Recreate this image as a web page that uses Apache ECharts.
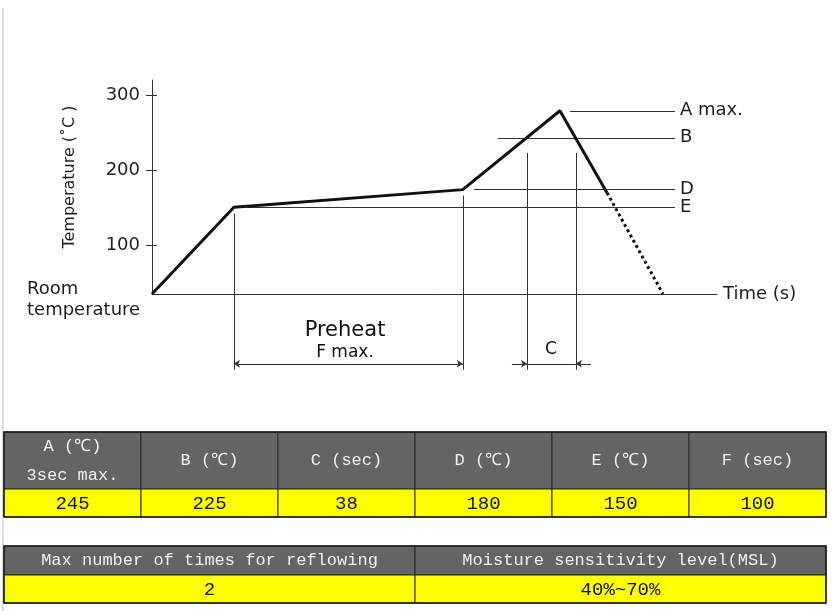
<!DOCTYPE html>
<html>
<head>
<meta charset="utf-8">
<script src="https://cdn.jsdelivr.net/npm/echarts@6/dist/echarts.min.js"></script>
<style>
  html, body { margin: 0; padding: 0; background: #fff; }
  #main { width: 832px; height: 611px; }
</style>
</head>
<body>
<div id="main"></div>
<script>
// reflow profile (time in drawing units, temperature in ℃ as drawn)
const profileTime = [0, 43.5, 165, 216.6, 241.6];
const profileTemp = [35, 150.5, 174, 279, 170];
const coolTime = [241.6, 271.3];
const coolTemp = [170, 35];

// level lines on the right
const levelNames = ['A max.', 'B', 'D', 'E'];
const levelTemps = [279, 243, 174, 150];
const levelStarts = [222, 183.7, 171, 50.4];
const levelEnd = 277.7;

// vertical guide lines [time, top temp]
const guideTimes = [43.5, 165, 199.1, 225.1];
const guideTops = [142, 166, 223, 223];
const guideBottom = -66;
const dimTemp = -58;

const tempTicks = [100, 200, 300];

// tables
const paramHeads = ['A (℃)\n3sec max.', 'B (℃)', 'C (sec)', 'D (℃)', 'E (℃)', 'F (sec)'];
const paramValues = ['245', '225', '38', '180', '150', '100'];
const reflowHeads = ['Max number of times for reflowing', 'Moisture sensitivity level(MSL)'];
const reflowValues = ['2', '40%~70%'];

const chart = echarts.init(document.getElementById('main'));
const font = 'DejaVu Sans, Arial, sans-serif';
const mono = 'Liberation Mono, DejaVu Sans Mono, monospace';
const ink = '#1e1e1e';

function seg(a, b) { return { coords: [a, b] }; }

const levelData = levelNames.map((n, i) => ({
  name: n,
  coords: [[levelStarts[i], levelTemps[i]], [levelEnd, levelTemps[i]]]
}));
const guideData = guideTimes.map((t, i) => seg([t, guideTops[i]], [t, guideBottom]));
guideData.push(seg([guideTimes[2], dimTemp], [guideTimes[3], dimTemp]));

const fMid = (guideTimes[0] + guideTimes[1]) / 2;
const arrowData = [
  seg([fMid, dimTemp], [guideTimes[0], dimTemp]),
  seg([fMid, dimTemp], [guideTimes[1], dimTemp]),
  seg([guideTimes[2] - 8, dimTemp], [guideTimes[2], dimTemp]),
  seg([guideTimes[3] + 8, dimTemp], [guideTimes[3], dimTemp])
];

function table(x, y, w, hHead, hVal, heads, values) {
  const n = heads.length;
  const cw = w / n;
  const items = [];
  heads.forEach((h, i) => {
    items.push({
      type: 'rect', shape: { x: x + i * cw, y: y, width: cw, height: hHead },
      style: { fill: '#646464', stroke: '#2a2a2a', lineWidth: 1 }
    });
    items.push({
      type: 'text', x: x + i * cw + cw / 2, y: y + hHead / 2,
      style: { text: h, fill: '#f0f0f0', font: '17px ' + mono, align: 'center', verticalAlign: 'middle', lineHeight: 29 }
    });
    items.push({
      type: 'rect', shape: { x: x + i * cw, y: y + hHead, width: cw, height: hVal },
      style: { fill: '#ffff00', stroke: '#2a2a2a', lineWidth: 1 }
    });
    items.push({
      type: 'text', x: x + i * cw + cw / 2, y: y + hHead + hVal / 2 + 1,
      style: { text: values[i], fill: '#111', font: '19px ' + mono, align: 'center', verticalAlign: 'middle' }
    });
  });
  items.push({
    type: 'rect', shape: { x: x, y: y, width: w, height: hHead + hVal },
    style: { fill: 'none', stroke: '#1a1a1a', lineWidth: 1.5 }
  });
  return items;
}

const thin = { color: '#333', width: 1, opacity: 1 };

chart.setOption({
  animation: false,
  backgroundColor: '#fff',
  grid: { left: 152, right: 115, top: 80, bottom: 317 },
  xAxis: {
    type: 'value', min: 0, max: 300,
    axisLine: { lineStyle: { color: '#333', width: 1 } },
    axisTick: { show: false }, axisLabel: { show: false }, splitLine: { show: false },
    name: 'Time (s)', nameLocation: 'end', nameGap: 6,
    nameTextStyle: { fontFamily: font, fontSize: 18, color: ink }
  },
  yAxis: [{
    type: 'value', min: 35, max: 320,
    axisLine: { show: true, lineStyle: { color: '#333', width: 1 } },
    axisTick: { show: true, length: 6, customValues: tempTicks, lineStyle: { color: '#333' } },
    axisLabel: { customValues: tempTicks, margin: 12, fontFamily: font, fontSize: 18, color: ink },
    splitLine: { show: false }
  }, {
    type: 'value', min: 35, max: 320, position: 'left',
    axisLine: { show: false },
    axisTick: { show: true, inside: true, length: 5, customValues: tempTicks, lineStyle: { color: '#333' } },
    axisLabel: { show: false },
    splitLine: { show: false }
  }],
  series: [
    {
      type: 'lines', coordinateSystem: 'cartesian2d', clip: false, silent: true,
      data: levelData, symbol: 'none',
      lineStyle: thin,
      label: { show: true, position: 'end', distance: 5, formatter: '{b}', fontFamily: font, fontSize: 18, color: ink, opacity: 1 }
    },
    {
      type: 'lines', coordinateSystem: 'cartesian2d', clip: false, silent: true,
      data: guideData, symbol: 'none',
      lineStyle: thin
    },
    {
      type: 'lines', coordinateSystem: 'cartesian2d', clip: false, silent: true,
      data: arrowData, symbol: ['none', 'arrow'], symbolSize: 6,
      lineStyle: thin
    },
    {
      type: 'line', clip: false, silent: true, symbol: 'none',
      data: profileTime.map((t, i) => [t, profileTemp[i]]),
      lineStyle: { color: '#111', width: 3 }
    },
    {
      type: 'line', clip: false, silent: true, symbol: 'none',
      data: coolTime.map((t, i) => [t, coolTemp[i]]),
      lineStyle: { color: '#111', width: 3, type: [3, 3] }
    }
  ],
  graphic: [
    { type: 'rect', shape: { x: 2, y: 8, width: 1.5, height: 603 }, style: { fill: '#cdd5e6' } },
    { type: 'text', x: 70, y: 177, rotation: Math.PI / 2, style: { text: 'Temperature (˚C )', font: '16px ' + font, fill: ink, align: 'center', verticalAlign: 'middle' } },
    { type: 'text', x: 27, y: 279, style: { text: 'Room\ntemperature', font: '18px ' + font, fill: ink, lineHeight: 21 } },
    { type: 'text', x: 345, y: 331, style: { text: 'Preheat', font: '21px ' + font, fill: '#111', align: 'center', verticalAlign: 'middle' } },
    { type: 'text', x: 345, y: 353, style: { text: 'F max.', font: '17px ' + font, fill: '#111', align: 'center', verticalAlign: 'middle' } },
    { type: 'text', x: 551, y: 350, style: { text: 'C', font: '17px ' + font, fill: '#111', align: 'center', verticalAlign: 'middle' } }
  ].concat(table(4, 432, 822, 57, 28, paramHeads, paramValues))
   .concat(table(4, 546, 822, 29, 28, reflowHeads, reflowValues))
});
</script>
</body>
</html>
